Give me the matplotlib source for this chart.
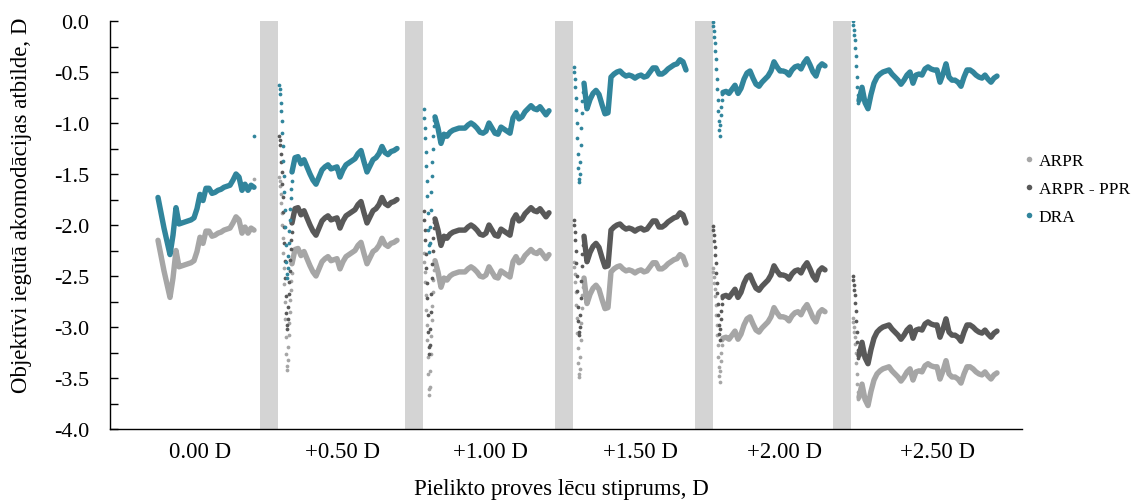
import matplotlib
matplotlib.use("Agg")
import matplotlib.pyplot as plt
from matplotlib.lines import Line2D
from matplotlib.ticker import MultipleLocator, FuncFormatter

plt.rcParams['font.family'] = ['Liberation Serif', 'DejaVu Serif']
plt.rcParams['axes.unicode_minus'] = False

# ---- conditions (added lens power) and recording layout (time in samples) ----
CONDITIONS = ["0.00 D", "+0.50 D", "+1.00 D", "+1.50 D", "+2.00 D", "+2.50 D"]
CONDITION_MID = [90, 233, 380, 530, 675, 828]
PAUSES = [(150, 168), (295, 313), (445, 463), (585, 603), (723, 741)]

DROP_T0 = [144.5, 169, 314, 464, 603, 743]   # first sample of the fast step response
TRACE_T0 = [48, 182, 325, 474, 613, 749]     # first sample of the settled trace
DROP_DT = 0.5
TRACE_DT = 3.0

# ---- 0.00 D ----
ARPR_000 = [-2.15, -2.30, -2.45, -2.58, -2.71, -2.52, -2.25, -2.41, -2.40, -2.39, -2.38,
            -2.37, -2.35, -2.26, -2.12, -2.18, -2.06, -2.06, -2.11, -2.10, -2.08, -2.07,
            -2.05, -2.04, -2.03, -1.98, -1.92, -1.95, -2.08, -2.02, -2.08, -2.03, -2.05]
DRA_000 = [-1.73, -1.88, -2.03, -2.16, -2.29, -2.10, -1.83, -1.99, -1.98, -1.97, -1.96,
           -1.95, -1.93, -1.84, -1.70, -1.76, -1.64, -1.64, -1.69, -1.68, -1.66, -1.65,
           -1.63, -1.62, -1.61, -1.56, -1.50, -1.53, -1.66, -1.60, -1.66, -1.61, -1.63]
ARPR_000_DROP = [-1.55]
DRA_000_DROP = [-1.13]

# ---- +0.50 D ----
ARPR_050_DROP = [-1.53, -1.57, -1.62, -1.70, -1.78, -1.88, -2.00, -2.13, -2.27, -2.42, -2.58,
                 -2.75, -2.92, -3.10, -3.26, -3.38, -3.42, -3.32, -3.20, -3.08, -2.96, -2.85,
                 -2.74, -2.64, -2.55, -2.47]
DIFF_050_DROP = [-1.13, -1.17, -1.22, -1.30, -1.38, -1.48, -1.60, -1.73, -1.87, -2.02, -2.18,
                 -2.35, -2.52, -2.70, -2.86, -2.98, -3.02, -2.92, -2.80, -2.68, -2.56, -2.45,
                 -2.34, -2.24, -2.15, -2.07]
DRA_050_DROP = [-0.63, -0.67, -0.72, -0.80, -0.88, -0.98, -1.10, -1.23, -1.37, -1.52, -1.68,
                -1.85, -2.02, -2.20, -2.36, -2.48, -2.52, -2.42, -2.30, -2.18, -2.06, -1.95,
                -1.84, -1.74, -1.65, -1.57]
ARPR_050 = [-2.38, -2.24, -2.23, -2.30, -2.26, -2.33, -2.40, -2.46, -2.50, -2.43, -2.36, -2.33,
            -2.31, -2.35, -2.34, -2.33, -2.43, -2.36, -2.31, -2.29, -2.27, -2.25, -2.20, -2.17,
            -2.28, -2.38, -2.32, -2.26, -2.24, -2.20, -2.13, -2.19, -2.21, -2.18, -2.17, -2.15]
DIFF_050 = [-1.98, -1.84, -1.83, -1.90, -1.86, -1.93, -2.00, -2.06, -2.10, -2.03, -1.96, -1.93,
            -1.91, -1.95, -1.94, -1.93, -2.03, -1.96, -1.91, -1.89, -1.87, -1.85, -1.80, -1.77,
            -1.88, -1.98, -1.92, -1.86, -1.84, -1.80, -1.73, -1.79, -1.81, -1.78, -1.77, -1.75]
DRA_050 = [-1.48, -1.34, -1.33, -1.40, -1.36, -1.43, -1.50, -1.56, -1.60, -1.53, -1.46, -1.43,
           -1.41, -1.45, -1.44, -1.43, -1.53, -1.46, -1.41, -1.39, -1.37, -1.35, -1.30, -1.27,
           -1.38, -1.48, -1.42, -1.36, -1.34, -1.30, -1.23, -1.29, -1.31, -1.28, -1.27, -1.25]

# ---- +1.00 D ----
ARPR_100_DROP = [-2.27, -2.36, -2.46, -2.56, -2.69, -2.83, -2.98, -3.13, -3.29, -3.46, -3.61,
                 -3.67, -3.59, -3.43, -3.26, -3.09, -2.93, -2.79, -2.66, -2.54, -2.44, -2.38]
DIFF_100_DROP = [-1.86, -1.95, -2.05, -2.15, -2.28, -2.42, -2.57, -2.72, -2.88, -3.05, -3.20,
                 -3.26, -3.18, -3.02, -2.85, -2.68, -2.52, -2.38, -2.25, -2.13, -2.03, -1.97]
DRA_100_DROP = [-0.86, -0.95, -1.05, -1.15, -1.28, -1.42, -1.57, -1.72, -1.88, -2.05, -2.20,
                -2.26, -2.18, -2.02, -1.85, -1.68, -1.52, -1.38, -1.25, -1.13, -1.03, -0.97]
ARPR_100 = [-2.35, -2.46, -2.61, -2.52, -2.54, -2.50, -2.48, -2.47, -2.46, -2.46, -2.46, -2.43,
            -2.41, -2.43, -2.46, -2.50, -2.51, -2.49, -2.41, -2.46, -2.51, -2.52, -2.45, -2.47,
            -2.49, -2.51, -2.36, -2.31, -2.37, -2.35, -2.30, -2.27, -2.24, -2.27, -2.28, -2.25,
            -2.29, -2.33, -2.29]
DIFF_100 = [-1.94, -2.05, -2.20, -2.11, -2.13, -2.09, -2.07, -2.06, -2.05, -2.05, -2.05, -2.02,
            -2.00, -2.02, -2.05, -2.09, -2.10, -2.08, -2.00, -2.05, -2.10, -2.11, -2.04, -2.06,
            -2.08, -2.10, -1.95, -1.90, -1.96, -1.94, -1.89, -1.86, -1.83, -1.86, -1.87, -1.84,
            -1.88, -1.92, -1.88]
DRA_100 = [-0.94, -1.05, -1.20, -1.11, -1.13, -1.09, -1.07, -1.06, -1.05, -1.05, -1.05, -1.02,
           -1.00, -1.02, -1.05, -1.09, -1.10, -1.08, -1.00, -1.05, -1.10, -1.11, -1.04, -1.06,
           -1.08, -1.10, -0.95, -0.90, -0.96, -0.94, -0.89, -0.86, -0.83, -0.86, -0.87, -0.84,
           -0.88, -0.92, -0.88]

# ---- +1.50 D ----
ARPR_150_DROP = [-2.36, -2.41, -2.48, -2.56, -2.66, -2.78, -2.91, -3.06, -3.21, -3.35, -3.46,
                 -3.49, -3.41, -3.29, -3.13, -2.96, -2.81, -2.69, -2.61]
DIFF_150_DROP = [-1.95, -2.00, -2.07, -2.15, -2.25, -2.37, -2.50, -2.65, -2.80, -2.94, -3.05,
                 -3.08, -3.00, -2.88, -2.72, -2.55, -2.40, -2.28, -2.20]
DRA_150_DROP = [-0.45, -0.50, -0.57, -0.65, -0.75, -0.87, -1.00, -1.15, -1.30, -1.44, -1.55,
                -1.58, -1.50, -1.38, -1.22, -1.05, -0.90, -0.78, -0.70]
ARPR_150 = [-2.52, -2.77, -2.68, -2.62, -2.59, -2.63, -2.73, -2.82, -2.81, -2.46, -2.43, -2.41,
            -2.40, -2.43, -2.45, -2.44, -2.45, -2.47, -2.45, -2.44, -2.46, -2.45, -2.41, -2.37,
            -2.37, -2.43, -2.43, -2.41, -2.38, -2.36, -2.34, -2.33, -2.29, -2.31, -2.39]
DIFF_150 = [-2.11, -2.36, -2.27, -2.21, -2.18, -2.22, -2.32, -2.41, -2.40, -2.05, -2.02, -2.00,
            -1.99, -2.02, -2.04, -2.03, -2.04, -2.06, -2.04, -2.03, -2.05, -2.04, -2.00, -1.96,
            -1.96, -2.02, -2.02, -2.00, -1.97, -1.95, -1.93, -1.92, -1.88, -1.90, -1.98]
DRA_150 = [-0.61, -0.86, -0.77, -0.71, -0.68, -0.72, -0.82, -0.91, -0.90, -0.55, -0.52, -0.50,
           -0.49, -0.52, -0.54, -0.53, -0.54, -0.56, -0.54, -0.53, -0.55, -0.54, -0.50, -0.46,
           -0.46, -0.52, -0.52, -0.50, -0.47, -0.45, -0.43, -0.42, -0.38, -0.40, -0.48]

# ---- +2.00 D ----
ARPR_200_DROP = [-2.42, -2.46, -2.51, -2.57, -2.63, -2.70, -2.78, -2.88, -2.98, -3.08, -3.18,
                 -3.29, -3.39, -3.48, -3.54, -3.43, -3.33, -3.25, -3.18, -3.13]
DIFF_200_DROP = [-2.01, -2.05, -2.10, -2.16, -2.22, -2.29, -2.37, -2.47, -2.57, -2.67, -2.77,
                 -2.88, -2.98, -3.07, -3.13, -3.02, -2.92, -2.84, -2.77, -2.72]
DRA_200_DROP = [-0.01, -0.05, -0.10, -0.16, -0.22, -0.29, -0.37, -0.47, -0.57, -0.67, -0.77,
                -0.88, -0.98, -1.07, -1.13, -1.02, -0.92, -0.84, -0.77, -0.72]
ARPR_200 = [-3.11, -3.10, -3.12, -3.08, -3.04, -3.12, -3.07, -2.98, -2.92, -2.90, -2.97, -3.03,
            -3.05, -3.01, -2.98, -2.95, -2.90, -2.81, -2.86, -2.90, -2.90, -2.91, -2.94, -2.89,
            -2.86, -2.85, -2.88, -2.82, -2.78, -2.84, -2.91, -2.95, -2.86, -2.83, -2.85]
DIFF_200 = [-2.70, -2.69, -2.71, -2.67, -2.63, -2.71, -2.66, -2.57, -2.51, -2.49, -2.56, -2.62,
            -2.64, -2.60, -2.57, -2.54, -2.49, -2.40, -2.45, -2.49, -2.49, -2.50, -2.53, -2.48,
            -2.45, -2.44, -2.47, -2.41, -2.37, -2.43, -2.50, -2.54, -2.45, -2.42, -2.44]
DRA_200 = [-0.70, -0.69, -0.71, -0.67, -0.63, -0.71, -0.66, -0.57, -0.51, -0.49, -0.56, -0.62,
           -0.64, -0.60, -0.57, -0.54, -0.49, -0.40, -0.45, -0.49, -0.49, -0.50, -0.53, -0.48,
           -0.45, -0.44, -0.47, -0.41, -0.37, -0.43, -0.50, -0.54, -0.45, -0.42, -0.44]

# ---- +2.50 D ----
ARPR_250_DROP = [-2.91, -2.95, -3.00, -3.05, -3.10, -3.17, -3.25, -3.35, -3.46, -3.56, -3.64, -3.71]
DIFF_250_DROP = [-2.50, -2.54, -2.59, -2.64, -2.69, -2.76, -2.84, -2.94, -3.05, -3.15, -3.23, -3.30]
DRA_250_DROP = [0.00, -0.04, -0.09, -0.14, -0.19, -0.26, -0.34, -0.44, -0.55, -0.65, -0.73, -0.80]
ARPR_250 = [-3.69, -3.56, -3.71, -3.77, -3.63, -3.52, -3.46, -3.43, -3.41, -3.40, -3.39, -3.43,
            -3.46, -3.49, -3.53, -3.49, -3.44, -3.41, -3.52, -3.44, -3.43, -3.44, -3.38, -3.36,
            -3.38, -3.39, -3.39, -3.51, -3.43, -3.33, -3.46, -3.49, -3.49, -3.51, -3.55, -3.46,
            -3.39, -3.39, -3.41, -3.44, -3.46, -3.47, -3.44, -3.48, -3.51, -3.47, -3.45]
DIFF_250 = [-3.28, -3.15, -3.30, -3.36, -3.22, -3.11, -3.05, -3.02, -3.00, -2.99, -2.98, -3.02,
            -3.05, -3.08, -3.12, -3.08, -3.03, -3.00, -3.11, -3.03, -3.02, -3.03, -2.97, -2.95,
            -2.97, -2.98, -2.98, -3.10, -3.02, -2.92, -3.05, -3.08, -3.08, -3.10, -3.14, -3.05,
            -2.98, -2.98, -3.00, -3.03, -3.05, -3.06, -3.03, -3.07, -3.10, -3.06, -3.04]
DRA_250 = [-0.78, -0.65, -0.80, -0.86, -0.72, -0.61, -0.55, -0.52, -0.50, -0.49, -0.48, -0.52,
           -0.55, -0.58, -0.62, -0.58, -0.53, -0.50, -0.61, -0.53, -0.52, -0.53, -0.47, -0.45,
           -0.47, -0.48, -0.48, -0.60, -0.52, -0.42, -0.55, -0.58, -0.58, -0.60, -0.64, -0.55,
           -0.48, -0.48, -0.50, -0.53, -0.55, -0.56, -0.53, -0.57, -0.60, -0.56, -0.54]

COLORS = {"ARPR": "#a6a6a6", "ARPR - PPR": "#595959", "DRA": "#31859c"}

SERIES = {
    "ARPR": ([ARPR_000_DROP, ARPR_050_DROP, ARPR_100_DROP, ARPR_150_DROP, ARPR_200_DROP, ARPR_250_DROP],
             [ARPR_000, ARPR_050, ARPR_100, ARPR_150, ARPR_200, ARPR_250]),
    "ARPR - PPR": ([None, DIFF_050_DROP, DIFF_100_DROP, DIFF_150_DROP, DIFF_200_DROP, DIFF_250_DROP],
                   [None, DIFF_050, DIFF_100, DIFF_150, DIFF_200, DIFF_250]),
    "DRA": ([DRA_000_DROP, DRA_050_DROP, DRA_100_DROP, DRA_150_DROP, DRA_200_DROP, DRA_250_DROP],
            [DRA_000, DRA_050, DRA_100, DRA_150, DRA_200, DRA_250]),
}

W, H = 1146, 502
fig = plt.figure(figsize=(W / 100, H / 100), dpi=100)
ax = fig.add_axes([110 / W, (H - 430) / H, 912 / W, 408 / H])

for a, b in PAUSES:
    ax.axvspan(a, b, color="#d4d4d4", lw=0, zorder=0)

for name, (drops, traces) in SERIES.items():
    col = COLORS[name]
    for k in range(len(CONDITIONS)):
        tr = traces[k]
        if tr is not None:
            t = [TRACE_T0[k] + i * TRACE_DT for i in range(len(tr))]
            ax.plot(t, tr, color=col, lw=3.9, solid_capstyle="round",
                    solid_joinstyle="round", zorder=2)
        dr = drops[k]
        if dr is not None:
            t = [DROP_T0[k] + i * DROP_DT for i in range(len(dr))]
            ax.plot(t, dr, ls="none", marker="o", ms=2.7, mec="none", color=col, zorder=2)

ax.set_xlim(0, 912)
ax.set_ylim(-4.0, 0.0)

ax.set_xticks(CONDITION_MID)
ax.set_xticklabels(CONDITIONS)
ax.tick_params(axis="x", length=0, pad=9, labelsize=16.5)

ax.yaxis.set_major_locator(MultipleLocator(0.5))
ax.yaxis.set_minor_locator(MultipleLocator(0.25))
ax.yaxis.set_major_formatter(FuncFormatter(lambda v, p: f"{v:.1f}" if abs(v) > 1e-9 else "0.0"))
ax.tick_params(axis="y", which="both", direction="in", length=6, width=1.0, pad=15, labelsize=16)

for s in ("top", "right"):
    ax.spines[s].set_visible(False)
for s in ("left", "bottom"):
    ax.spines[s].set_linewidth(1.0)
    ax.spines[s].set_color("black")

fig.text(22 / W, (H - 205) / H, "Objektīvi iegūtā akomodācijas atbilde, D",
         rotation=90, ha="center", va="center", fontsize=16.5)
fig.text(561 / W, (H - 490) / H, "Pielikto proves lēcu stiprums, D",
         ha="center", va="center", fontsize=16.5)

handles = [Line2D([], [], ls="none", marker="o", ms=4, mec="none", color=COLORS[n])
           for n in SERIES]
fig.legend(handles, list(SERIES), loc="upper left", bbox_to_anchor=(1012 / W, (H - 142) / H),
           frameon=False, fontsize=12.5, handlelength=0.6, handletextpad=0.25,
           labelspacing=0.67, borderpad=0.2)

fig.savefig("out.png", dpi=100)
